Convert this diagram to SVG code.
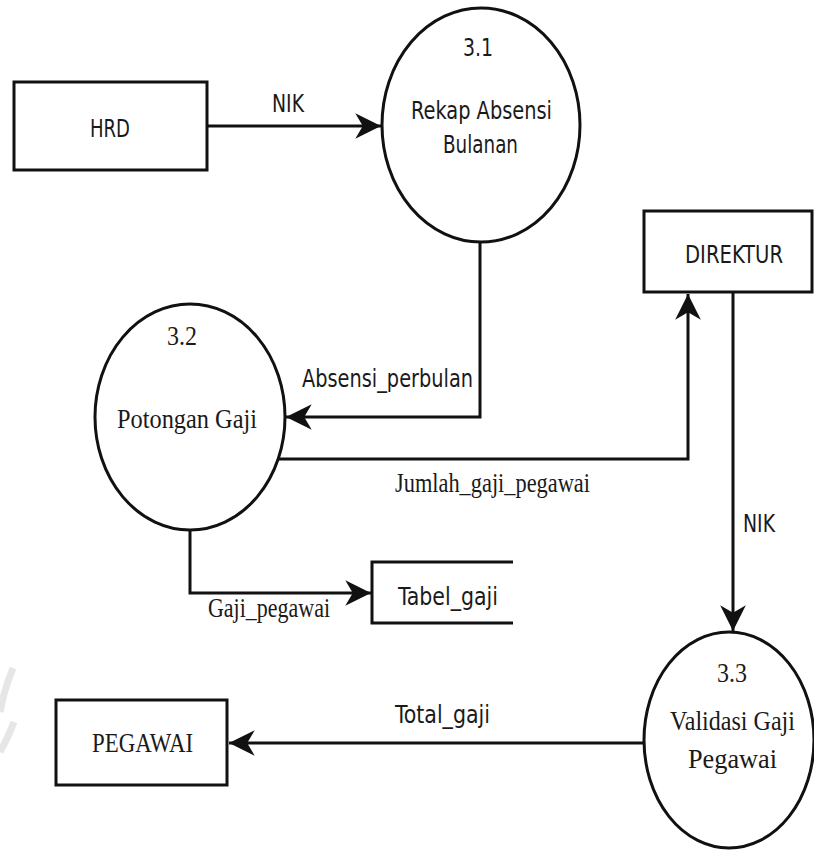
<svg xmlns="http://www.w3.org/2000/svg" width="814" height="852" viewBox="0 0 814 852">
  <style>
    .shape { fill: #ffffff; stroke: #111111; stroke-width: 3; }
    .open { fill: none; stroke: #111111; stroke-width: 3; }
    .flow { fill: none; stroke: #111111; stroke-width: 3; }
    .sans { font-family: "DejaVu Sans Condensed", "DejaVu Sans", "Liberation Sans", sans-serif; font-size: 24px; fill: #1a1a1a; }
    .serif { font-family: "Liberation Serif", "DejaVu Serif", serif; font-size: 28px; fill: #1a1a1a; }
  </style>
  <defs>
    <marker id="arrow" markerUnits="userSpaceOnUse" markerWidth="30" markerHeight="30" viewBox="-26 -14 28 28" refX="0" refY="0" orient="auto">
      <path d="M0,0 L-24,-12 L-17,0 L-24,12 Z" fill="#111111"/>
    </marker>
  </defs>
  <rect width="814" height="852" fill="#ffffff"/>

  <!-- faint watermark stroke at the left edge -->
  <path d="M13,668 Q4,690 0,712 M14,722 Q8,738 0,752" fill="none" stroke="#e6e6e6" stroke-width="7"/>

  <!-- data flows -->
  <g id="connectors">
    <path class="flow" d="M207,126 H381" marker-end="url(#arrow)"/>
    <path class="flow" d="M480,242 V417 H286" marker-end="url(#arrow)"/>
    <path class="flow" d="M279,459 H688 V294" marker-end="url(#arrow)"/>
    <path class="flow" d="M733,292 V631" marker-end="url(#arrow)"/>
    <path class="flow" d="M190,530 V593 H371" marker-end="url(#arrow)"/>
    <path class="flow" d="M644,743 H229" marker-end="url(#arrow)"/>
    <text class="sans" x="272" y="112" textLength="32" lengthAdjust="spacingAndGlyphs">NIK</text>
    <text class="sans" x="302" y="387" textLength="171" lengthAdjust="spacingAndGlyphs">Absensi_perbulan</text>
    <text class="serif" x="395" y="492" textLength="195" lengthAdjust="spacingAndGlyphs">Jumlah_gaji_pegawai</text>
    <text class="sans" x="743" y="532" textLength="32" lengthAdjust="spacingAndGlyphs">NIK</text>
    <text class="serif" x="208" y="617" textLength="122" lengthAdjust="spacingAndGlyphs">Gaji_pegawai</text>
    <text class="sans" x="395" y="723" textLength="95" lengthAdjust="spacingAndGlyphs">Total_gaji</text>
  </g>

  <!-- external entity: HRD -->
  <g id="hrd">
    <rect class="shape" x="14" y="82" width="193" height="88"/>
    <text class="sans" x="90" y="137" textLength="40" lengthAdjust="spacingAndGlyphs">HRD</text>
  </g>

  <!-- process 3.1 -->
  <g id="p31">
    <ellipse class="shape" cx="481" cy="125" rx="99" ry="117"/>
    <text class="sans" x="463" y="56" textLength="30" lengthAdjust="spacingAndGlyphs">3.1</text>
    <text class="sans" x="411" y="119" textLength="141" lengthAdjust="spacingAndGlyphs">Rekap Absensi</text>
    <text class="sans" x="443" y="153" textLength="75" lengthAdjust="spacingAndGlyphs">Bulanan</text>
  </g>

  <!-- external entity: DIREKTUR -->
  <g id="direktur">
    <rect class="shape" x="644" y="211" width="168" height="81"/>
    <text class="sans" x="685" y="263" textLength="98" lengthAdjust="spacingAndGlyphs">DIREKTUR</text>
  </g>

  <!-- process 3.2 -->
  <g id="p32">
    <ellipse class="shape" cx="190" cy="417" rx="95" ry="113"/>
    <text class="serif" x="167" y="345" textLength="30" lengthAdjust="spacingAndGlyphs">3.2</text>
    <text class="serif" x="117" y="428" textLength="140" lengthAdjust="spacingAndGlyphs">Potongan Gaji</text>
  </g>

  <!-- data store: Tabel_gaji -->
  <g id="tabel-gaji">
    <path class="open" d="M513,562 H372 V623 H513"/>
    <text class="sans" x="398" y="605" textLength="100" lengthAdjust="spacingAndGlyphs">Tabel_gaji</text>
  </g>

  <!-- process 3.3 -->
  <g id="p33">
    <ellipse class="shape" cx="729" cy="740" rx="85" ry="108"/>
    <text class="serif" x="717" y="682" textLength="30" lengthAdjust="spacingAndGlyphs">3.3</text>
    <text class="serif" x="670" y="730" textLength="125" lengthAdjust="spacingAndGlyphs">Validasi Gaji</text>
    <text class="serif" x="688" y="768" textLength="89" lengthAdjust="spacingAndGlyphs">Pegawai</text>
  </g>

  <!-- external entity: PEGAWAI -->
  <g id="pegawai">
    <rect class="shape" x="56" y="700" width="171" height="85"/>
    <text class="serif" x="92" y="752" textLength="101" lengthAdjust="spacingAndGlyphs">PEGAWAI</text>
  </g>
</svg>
